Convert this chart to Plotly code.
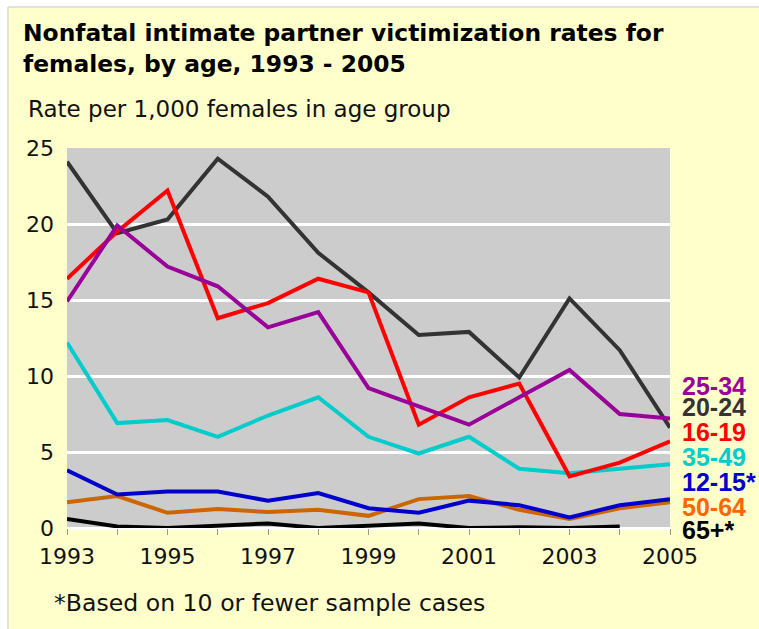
import plotly.graph_objects as go

years = [1993, 1994, 1995, 1996, 1997, 1998, 1999, 2000, 2001, 2002, 2003, 2004, 2005]
r12_15 = [3.8, 2.2, 2.4, 2.4, 1.8, 2.3, 1.3, 1.0, 1.8, 1.5, 0.7, 1.5, 1.9]
r16_19 = [16.4, 19.5, 22.2, 13.8, 14.8, 16.4, 15.5, 6.8, 8.6, 9.5, 3.4, 4.3, 5.7]
r20_24 = [24.1, 19.4, 20.3, 24.3, 21.8, 18.1, 15.5, 12.7, 12.9, 9.9, 15.1, 11.7, 6.6]
r25_34 = [14.9, 19.9, 17.2, 15.9, 13.2, 14.2, 9.2, 8.0, 6.8, 8.6, 10.4, 7.5, 7.2]
r35_49 = [12.2, 6.9, 7.1, 6.0, 7.4, 8.6, 6.0, 4.9, 6.0, 3.9, 3.6, 3.9, 4.2]
r50_64 = [1.7, 2.1, 1.0, 1.25, 1.05, 1.2, 0.8, 1.9, 2.1, 1.2, 0.6, 1.3, 1.7]
r65 = [0.6, 0.1, 0.0, 0.15, 0.3, 0.0, 0.15, 0.3, 0.0, 0.05, 0.0, 0.1, None]

series_names = ["65+*", "50-64", "12-15*", "35-49", "20-24", "16-19", "25-34"]
series_values = [r65, r50_64, r12_15, r35_49, r20_24, r16_19, r25_34]
line_colors = ["#000000", "#CC6600", "#0000CC", "#00CCCC", "#333333", "#FF0000", "#990099"]

label_order = ["25-34", "20-24", "16-19", "35-49", "12-15*", "50-64", "65+*"]
label_colors = ["#990099", "#333333", "#FF0000", "#00CCCC", "#0000CC", "#FF6600", "#000000"]
label_py = [386, 407, 432, 457, 482, 507, 530]

y_ticks = [0, 5, 10, 15, 20, 25]
x_label_ticks = [1993, 1995, 1997, 1999, 2001, 2003, 2005]

W, H = 759, 629
L, R, T, B = 67, 89, 148, 101
PW, PH = W - L - R, H - T - B


def px_x(px):
    return (px - L) / PW


def px_y(py):
    return (H - B - py) / PH


fig = go.Figure()
for name, vals, col in zip(series_names, series_values, line_colors):
    fig.add_trace(go.Scatter(x=years, y=vals, mode="lines", name=name,
                             line=dict(color=col, width=4), connectgaps=False))

title_font = dict(family="DejaVu Sans", size=23.4, color="#000000")
text_font = dict(family="DejaVu Sans", size=23, color="#111111")
anns = [
    dict(text="<b>Nonfatal intimate partner victimization rates for</b>", x=px_x(21), y=px_y(33),
         xanchor="left", yanchor="middle", font=title_font),
    dict(text="<b>females, by age, 1993 - 2005</b>", x=px_x(21), y=px_y(64),
         xanchor="left", yanchor="middle", font=title_font),
    dict(text="Rate per 1,000 females in age group", x=px_x(26), y=px_y(109),
         xanchor="left", yanchor="middle", font=text_font),
    dict(text="*Based on 10 or fewer sample cases", x=px_x(52), y=px_y(603),
         xanchor="left", yanchor="middle", font=dict(family="DejaVu Sans", size=23.6, color="#111111")),
]
for lab, col, py in zip(label_order, label_colors, label_py):
    anns.append(dict(text="<b>" + lab + "</b>", x=px_x(680), y=px_y(py), xanchor="left",
                     yanchor="middle",
                     font=dict(family="Liberation Sans", size=25, color=col)))
for a in anns:
    a.update(xref="paper", yref="paper", showarrow=False)

shapes = [
    dict(type="rect", xref="paper", yref="paper", x0=px_x(-5), x1=px_x(8), y0=px_y(640), y1=px_y(-5),
         fillcolor="white", line=dict(width=0), layer="above"),
    dict(type="rect", xref="paper", yref="paper", x0=px_x(-5), x1=px_x(770), y0=px_y(7), y1=px_y(-5),
         fillcolor="white", line=dict(width=0), layer="above"),
    dict(type="line", xref="paper", yref="paper", x0=px_x(8), x1=px_x(8), y0=px_y(640), y1=px_y(7),
         line=dict(color="#D8D8D8", width=1.5), layer="above"),
    dict(type="line", xref="paper", yref="paper", x0=px_x(8), x1=px_x(770), y0=px_y(7), y1=px_y(7),
         line=dict(color="#D8D8D8", width=1.5), layer="above"),
]

fig.update_layout(
    width=W, height=H,
    margin=dict(l=L, r=R, t=T, b=B, pad=0),
    paper_bgcolor="#FFFFCC",
    plot_bgcolor="#CCCCCC",
    showlegend=False,
    annotations=anns,
    shapes=shapes,
    xaxis=dict(range=[1993, 2005], tickvals=x_label_ticks, ticks="outside", ticklen=6,
               tickcolor="#999999", tickwidth=1, showgrid=False, zeroline=False,
               showline=False, ticklabelstandoff=3,
               tickfont=dict(family="DejaVu Sans", size=22, color="#111111"),
               minor=dict(dtick=1, tick0=1993, ticks="outside", ticklen=6, tickcolor="#999999",
                          tickwidth=1, showgrid=False)),
    yaxis=dict(range=[0, 25], tickvals=y_ticks, ticks="", showgrid=True, gridcolor="white",
               gridwidth=3, zeroline=True, zerolinecolor="white", zerolinewidth=3,
               showline=False, ticklabelstandoff=12,
               tickfont=dict(family="DejaVu Sans", size=22, color="#111111")),
)

fig.write_html(
    "out.html",
    config={"displayModeBar": False},
    post_script="document.body.style.margin='0';document.documentElement.style.overflow='hidden';",
)
